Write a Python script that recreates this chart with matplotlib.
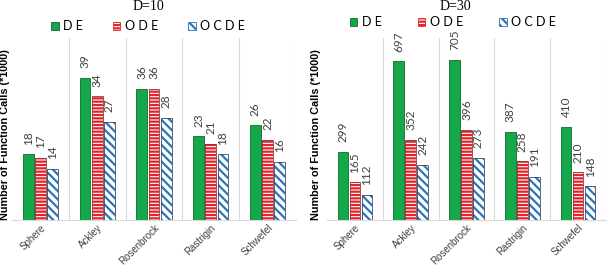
import matplotlib
matplotlib.use('Agg')
import matplotlib.pyplot as plt
import numpy as np
from matplotlib.patches import Patch

funcs = ['Sphere', 'Ackley', 'Rosenbrock', 'Rastrigin', 'Schwefel']
d10_de = [18, 39, 36, 23, 26]
d10_ode = [17, 34, 36, 21, 22]
d10_ocde = [14, 27, 28, 18, 16]
d30_de = [299, 697, 705, 387, 410]
d30_ode = [165, 352, 396, 258, 210]
d30_ocde = [112, 242, 273, 191, 148]

green = '#14A84A'
red = '#E5232B'
blue = '#2A74B8'

plt.rcParams['hatch.linewidth'] = 1.6

fig = plt.figure(figsize=(6.07, 2.68), dpi=100)


def panel(rect, de, ode, ocde, ymax, title, title_xy, leg_xy, ylab_x, colsp):
	ax = fig.add_axes(rect)
	x = np.arange(len(funcs))
	w = 0.19
	off = 0.215

	ax.bar(x - off, de, w, color=green, edgecolor='#0E6B30', linewidth=0.6, zorder=3)
	# hatched bars, outline drawn separately
	ax.bar(x, ode, w, color='white', edgecolor=red, hatch='-----', linewidth=0, zorder=3)
	ax.bar(x, ode, w, fill=False, edgecolor='#8A3A3A', linewidth=0.6, zorder=4)
	ax.bar(x + off, ocde, w, color='white', edgecolor=blue, hatch='\\\\\\\\', linewidth=0, zorder=3)
	ax.bar(x + off, ocde, w, fill=False, edgecolor='#3A4A66', linewidth=0.6, zorder=4)

	for xs, vals in ((x - off, de), (x, ode), (x + off, ocde)):
		for xi, v in zip(xs, vals):
			ax.annotate(str(v), (xi, v), xytext=(0, 7), textcoords='offset points',
						rotation=90, ha='center', va='bottom', fontsize=8.5,
						family='Lato', color='#404040')

	ax.set_xlim(-0.5, len(funcs) - 0.5)
	ax.set_ylim(0, ymax)
	for b in np.arange(0.5, len(funcs), 1.0):
		ax.axvline(b, color='#D9D9D9', linewidth=0.8, zorder=1)
	for s in ('left', 'right', 'top'):
		ax.spines[s].set_visible(False)
	ax.spines['bottom'].set_color('#D9D9D9')
	ax.set_yticks([])
	ax.set_xticks(x)
	ax.set_xticklabels(funcs, rotation=45, ha='right', rotation_mode='anchor',
					   fontsize=7, family='Liberation Sans', color='#404040')
	ax.tick_params(axis='x', length=0, pad=2)

	fig.text(ylab_x, rect[1] + rect[3] / 2 - 0.02, 'Number of Function Calls (*1000)',
			 rotation=90, ha='center', va='center', fontsize=7.8,
			 fontweight='bold', family='Liberation Sans')
	fig.text(title_xy[0], title_xy[1], title, ha='center', va='center',
			 fontsize=10, family='Liberation Serif')

	handles = [Patch(facecolor=green, edgecolor='#0E6B30', linewidth=0.6),
			   Patch(facecolor='white', edgecolor=red, hatch='-----', linewidth=0.6),
			   Patch(facecolor='white', edgecolor=blue, hatch='\\\\\\\\', linewidth=0.6)]
	fig.legend(handles, ['D E', 'O D E', 'O C D E'], loc='center',
			   bbox_to_anchor=leg_xy, ncol=3, frameon=False,
			   handlelength=0.6, handleheight=0.6, handletextpad=0.35,
			   columnspacing=colsp, prop={'family': 'Lato', 'size': 9})
	return ax


panel([12 / 607, 48 / 268, 284 / 607, 182 / 268], d10_de, d10_ode, d10_ocde, 50,
	  'D=10', (148 / 607, 1 - 7 / 268), (148 / 607, 1 - 26 / 268), 5 / 607, 2.4)
panel([327 / 607, 48 / 268, 279 / 607, 182 / 268], d30_de, d30_ode, d30_ocde, 800,
	  'D=30', (455 / 607, 1 - 6 / 268), (453 / 607, 1 - 22 / 268), 316 / 607, 2.9)

fig.savefig('out.png', dpi=100)
